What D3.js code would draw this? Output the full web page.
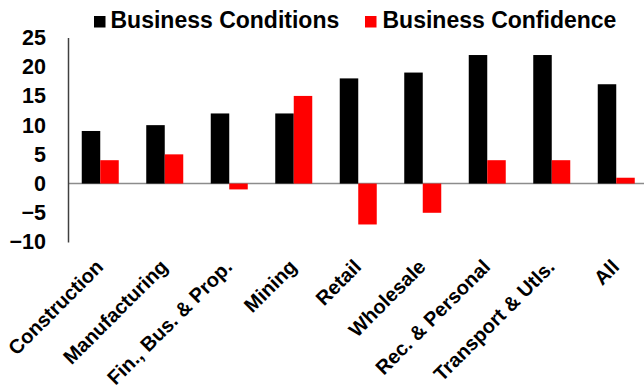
<!DOCTYPE html>
<html>
<head>
<meta charset="utf-8">
<script src="https://cdn.jsdelivr.net/npm/d3@7/dist/d3.min.js"></script>
<style>
  html, body { margin: 0; padding: 0; background: #fff; }
  svg { display: block; font-family: "Liberation Sans", Arial, sans-serif; font-weight: bold; }
</style>
</head>
<body>
<svg id="chart" width="644" height="391"></svg>
<script>
// Sector survey results
const categories = ["Construction", "Manufacturing", "Fin., Bus. & Prop.", "Mining", "Retail",
                    "Wholesale", "Rec. & Personal", "Transport & Utls.", "All"];
const seriesNames = ["Business Conditions", "Business Confidence"];
const conditions = [9, 10, 12, 12, 18, 19, 22, 22, 17];
const confidence = [4, 5, -1, 15, -7, -5, 4, 4, 1];
const yTicks = [-10, -5, 0, 5, 10, 15, 20, 25];
const colors = ["#000000", "#ff0000"];

const svg = d3.select("#chart");

const x = d3.scaleBand().domain(categories).range([68, 648.5]).padding(0);
const xs = d3.scaleBand().domain(seriesNames).range([0, 37]).padding(0);
const y = d3.scaleLinear().domain([-10, 25]).range([242, 37.5]);

const rows = categories.map((c, i) => ({ cat: c, vals: [conditions[i], confidence[i]] }));

// zero line
svg.append("line")
  .attr("x1", 68).attr("x2", 644)
  .attr("y1", y(0)).attr("y2", y(0))
  .attr("stroke", "#8c8c8c").attr("stroke-width", 1.5);

// bars
const groups = svg.append("g").selectAll("g").data(rows).join("g")
  .attr("transform", d => `translate(${x(d.cat) + x.bandwidth() / 2 - 18.5},0)`);

groups.selectAll("rect")
  .data(d => d.vals.map((v, k) => ({ key: seriesNames[k], v, k })))
  .join("rect")
  .attr("x", d => xs(d.key))
  .attr("width", xs.bandwidth())
  .attr("y", d => y(Math.max(0, d.v)))
  .attr("height", d => Math.abs(y(d.v) - y(0)))
  .attr("fill", d => colors[d.k]);

// y axis
const yAxis = svg.append("g")
  .attr("transform", "translate(68,0)")
  .call(d3.axisLeft(y).tickValues(yTicks).tickSize(0).tickPadding(22).tickFormat(d3.format("d")));
yAxis.select(".domain").attr("stroke", "#404040").attr("stroke-width", 1.5);
yAxis.selectAll("text")
  .attr("font-size", 21.5).attr("font-weight", "bold").attr("fill", "#000")
  .attr("font-family", "'Liberation Sans', Arial, sans-serif");

// x category labels, rotated
svg.append("g").selectAll("text").data(categories).join("text")
  .attr("transform", d => `translate(${x(d) + x.bandwidth() / 2 - 6},258) rotate(-45)`)
  .attr("text-anchor", "end")
  .attr("dy", "0.72em")
  .attr("font-size", 20)
  .attr("fill", "#000")
  .text(d => d);

// legend
const legendPos = [{ sx: 94, tx: 110.5 }, { sx: 365, tx: 382.5 }];
const legend = svg.append("g").selectAll("g").data(seriesNames).join("g");
legend.append("rect")
  .attr("x", (d, i) => legendPos[i].sx).attr("y", 16)
  .attr("width", 11.5).attr("height", 11.5)
  .attr("fill", (d, i) => colors[i]);
legend.append("text")
  .attr("x", (d, i) => legendPos[i].tx).attr("y", 28)
  .attr("font-size", 23).attr("fill", "#000")
  .text(d => d);
</script>
</body>
</html>
